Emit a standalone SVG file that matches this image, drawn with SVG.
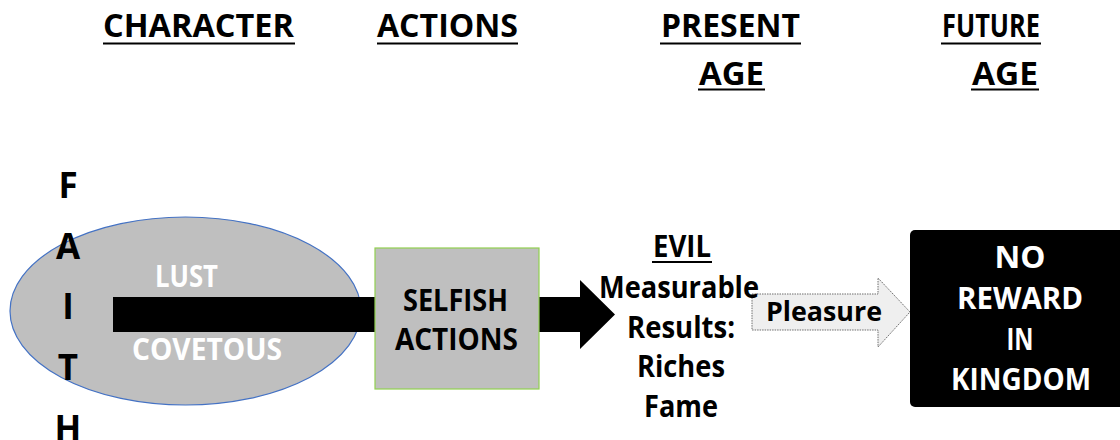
<svg xmlns="http://www.w3.org/2000/svg" width="1120" height="440" viewBox="0 0 1120 440">
  <style>
    text { font-family: "Open Sans", "Liberation Sans", sans-serif; font-weight: 700; }
    .hdr { font-size: 32px; fill: #000; }
    .ul { stroke: #000; stroke-width: 2.2; }
    .faith { font-size: 35px; fill: #000; text-anchor: middle; }
    .w { font-size: 30.5px; fill: #fff; }
    .b { font-size: 30.5px; fill: #000; }
    .mid { text-anchor: middle; }
    .small { font-size: 26px; }
  </style>
  <rect width="1120" height="440" fill="#fff"/>

  <!-- column headings -->
  <g id="headings">
    <text class="hdr" x="103" y="37" textLength="191" lengthAdjust="spacingAndGlyphs">CHARACTER</text>
    <line class="ul" x1="103" y1="43.5" x2="295" y2="43.5"/>
    <text class="hdr" x="377" y="37" textLength="141" lengthAdjust="spacingAndGlyphs">ACTIONS</text>
    <line class="ul" x1="377" y1="43.5" x2="518" y2="43.5"/>
    <text class="hdr" x="661" y="37" textLength="139" lengthAdjust="spacingAndGlyphs">PRESENT</text>
    <line class="ul" x1="660" y1="43.5" x2="801" y2="43.5"/>
    <text class="hdr" x="699" y="85" textLength="65" lengthAdjust="spacingAndGlyphs">AGE</text>
    <line class="ul" x1="698" y1="89.5" x2="765" y2="89.5"/>
    <text class="hdr" x="942" y="37" textLength="98" lengthAdjust="spacingAndGlyphs">FUTURE</text>
    <line class="ul" x1="941" y1="43.5" x2="1041" y2="43.5"/>
    <text class="hdr" x="972" y="85" textLength="66" lengthAdjust="spacingAndGlyphs">AGE</text>
    <line class="ul" x1="971" y1="89.5" x2="1039" y2="89.5"/>
  </g>

  <!-- character ellipse -->
  <g id="character">
    <ellipse cx="185.5" cy="311" rx="175.5" ry="94" fill="#bfbfbf" stroke="#4472c4" stroke-width="1.2"/>
  </g>

  <!-- connectors -->
  <g id="connectors">
    <path d="M113,297 H580 V280 L615,314.5 L580,349 V332 H113 Z" fill="#000"/>
    <path d="M752,294 H878 V278 L910,312 L878,347 V330 H752 Z" fill="#efefef" stroke="#6e6e6e" stroke-width="1" stroke-dasharray="1.5 1"/>
    <text class="b small" x="766" y="321" textLength="116" lengthAdjust="spacingAndGlyphs">Pleasure</text>
  </g>

  <g id="character-labels">
    <text class="w" x="155" y="287" textLength="63" lengthAdjust="spacingAndGlyphs">LUST</text>
    <text class="w" x="132" y="360" textLength="150" lengthAdjust="spacingAndGlyphs">COVETOUS</text>
  </g>

  <!-- FAITH written vertically -->
  <g id="faith">
    <text class="faith" x="68" y="198">F</text>
    <text class="faith" x="68" y="259">A</text>
    <text class="faith" x="68" y="319">I</text>
    <text class="faith" x="68" y="380">T</text>
    <text class="faith" x="68" y="441">H</text>
  </g>

  <!-- selfish actions box -->
  <g id="actions">
    <rect x="375" y="248" width="164" height="141" fill="#bfbfbf" stroke="#92d050" stroke-width="1.2"/>
    <text class="b" x="403" y="311" textLength="105" lengthAdjust="spacingAndGlyphs">SELFISH</text>
    <text class="b" x="395" y="350" textLength="123" lengthAdjust="spacingAndGlyphs">ACTIONS</text>
  </g>

  <!-- present age results -->
  <g id="present">
    <text class="b" x="653" y="257" textLength="58" lengthAdjust="spacingAndGlyphs">EVIL</text>
    <line class="ul" x1="652" y1="262" x2="712" y2="262"/>
    <text class="b" x="599" y="298" textLength="160" lengthAdjust="spacingAndGlyphs">Measurable</text>
    <text class="b" x="627" y="338" textLength="108" lengthAdjust="spacingAndGlyphs">Results:</text>
    <text class="b" x="637" y="377" textLength="88" lengthAdjust="spacingAndGlyphs">Riches</text>
    <text class="b" x="644" y="417" textLength="74" lengthAdjust="spacingAndGlyphs">Fame</text>
  </g>

  <!-- future age outcome -->
  <g id="future">
    <rect x="910" y="230" width="216" height="177" rx="5" fill="#000"/>
    <text class="w mid" x="1020" y="268" textLength="51" lengthAdjust="spacingAndGlyphs">NO</text>
    <text class="w mid" x="1020" y="309" textLength="126" lengthAdjust="spacingAndGlyphs">REWARD</text>
    <text class="w mid" x="1020" y="350" textLength="27" lengthAdjust="spacingAndGlyphs">IN</text>
    <text class="w mid" x="1021" y="390" textLength="140" lengthAdjust="spacingAndGlyphs">KINGDOM</text>
  </g>
</svg>
